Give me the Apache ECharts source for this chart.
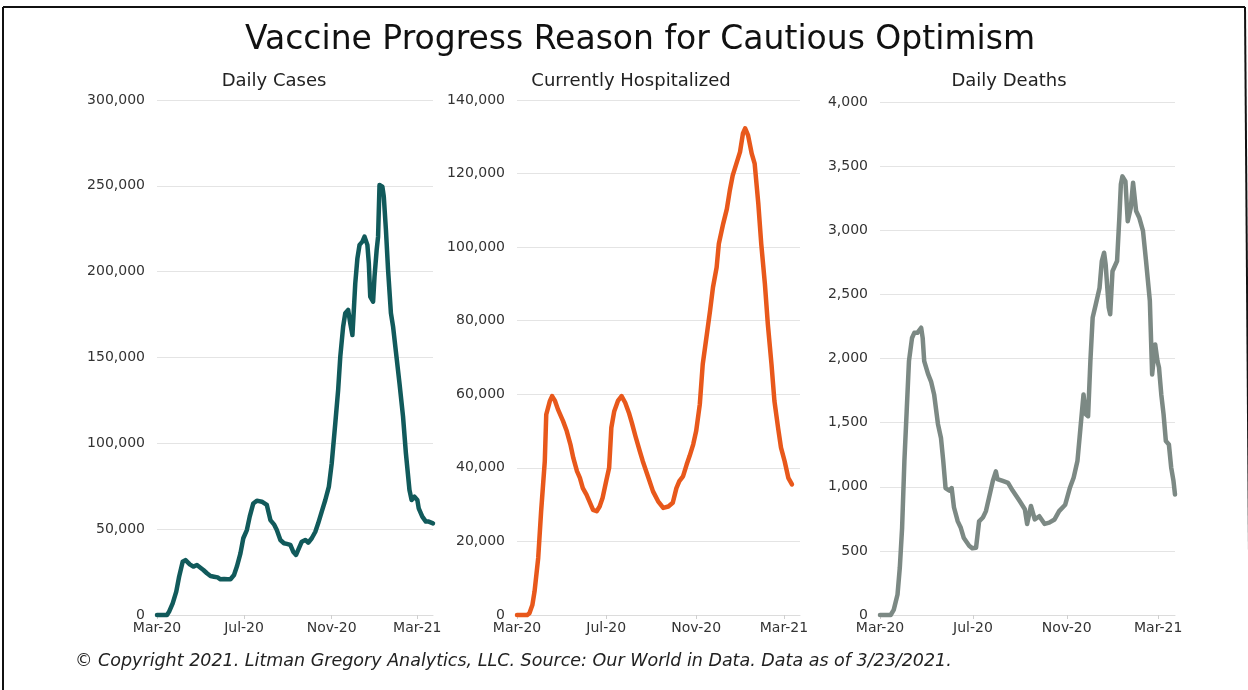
<!DOCTYPE html>
<html>
<head>
<meta charset="utf-8">
<title>Vaccine Progress Reason for Cautious Optimism</title>
<script src="https://cdn.jsdelivr.net/npm/echarts@6/dist/echarts.min.js"></script>
<style>
  html, body { margin: 0; padding: 0; background: #fff; }
  #chart { width: 1248px; height: 690px; }
</style>
</head>
<body>
<div id="chart"></div>
<script>
// ---- Data: US daily cases, current hospitalizations, daily deaths (7-day averages) ----
const casesDates = ['2020-03-01','2020-03-15','2020-03-18','2020-03-23','2020-03-28','2020-04-01','2020-04-06','2020-04-10','2020-04-16','2020-04-21','2020-04-26','2020-04-30','2020-05-05','2020-05-10','2020-05-15','2020-05-20','2020-05-25','2020-05-29','2020-06-03','2020-06-08','2020-06-12','2020-06-17','2020-06-21','2020-06-26','2020-06-30','2020-07-05','2020-07-09','2020-07-14','2020-07-19','2020-07-26','2020-08-02','2020-08-07','2020-08-12','2020-08-16','2020-08-21','2020-08-26','2020-08-30','2020-09-04','2020-09-08','2020-09-12','2020-09-15','2020-09-20','2020-09-25','2020-09-29','2020-10-04','2020-10-09','2020-10-13','2020-10-18','2020-10-23','2020-10-28','2020-11-01','2020-11-06','2020-11-10','2020-11-13','2020-11-17','2020-11-20','2020-11-24','2020-11-27','2020-11-30','2020-12-02','2020-12-04','2020-12-07','2020-12-10','2020-12-14','2020-12-17','2020-12-21','2020-12-23','2020-12-25','2020-12-29','2020-12-31','2021-01-03','2021-01-05','2021-01-07','2021-01-11','2021-01-13','2021-01-16','2021-01-19','2021-01-23','2021-01-26','2021-01-30','2021-02-04','2021-02-09','2021-02-13','2021-02-18','2021-02-21','2021-02-25','2021-03-01','2021-03-03','2021-03-08','2021-03-13','2021-03-17','2021-03-23'];
const casesValues = [0,0,2000,6800,13600,22300,31000,32000,29500,28200,29100,27800,26200,24300,22700,22300,21900,20800,21000,20800,20800,23300,28200,35900,44700,49500,57300,65000,66600,66000,64100,55300,52800,49500,43700,41800,41400,40800,36900,35000,37900,42700,43700,42100,44700,48500,53400,60200,67000,74800,88400,111700,131100,150500,168000,175800,177700,169900,163100,177700,193200,207800,215600,217500,220400,215600,204900,185500,182500,197100,212600,220400,250500,249500,243700,224300,201000,175800,168000,153400,135000,115500,94200,72800,67000,68900,67000,62100,57300,54400,54400,53400];

const hospDates = ['2020-03-01','2020-03-15','2020-03-18','2020-03-22','2020-03-25','2020-03-30','2020-04-03','2020-04-08','2020-04-10','2020-04-15','2020-04-18','2020-04-22','2020-04-26','2020-05-03','2020-05-08','2020-05-13','2020-05-17','2020-05-22','2020-05-26','2020-05-30','2020-06-04','2020-06-08','2020-06-13','2020-06-18','2020-06-22','2020-06-26','2020-07-01','2020-07-05','2020-07-08','2020-07-12','2020-07-17','2020-07-22','2020-07-27','2020-08-01','2020-08-05','2020-08-10','2020-08-16','2020-08-20','2020-08-27','2020-09-03','2020-09-10','2020-09-17','2020-09-24','2020-09-30','2020-10-05','2020-10-09','2020-10-14','2020-10-19','2020-10-23','2020-10-28','2020-11-01','2020-11-06','2020-11-10','2020-11-15','2020-11-20','2020-11-24','2020-11-29','2020-12-02','2020-12-08','2020-12-13','2020-12-17','2020-12-21','2020-12-26','2020-12-31','2021-01-04','2021-01-07','2021-01-11','2021-01-16','2021-01-20','2021-01-25','2021-01-29','2021-02-03','2021-02-07','2021-02-12','2021-02-16','2021-02-21','2021-02-25','2021-03-02','2021-03-07','2021-03-12'];
const hospValues = [0,0,500,2700,6400,15500,28200,41800,54500,58200,59500,58200,55900,52700,50000,46400,42700,39100,37300,34500,32700,30900,28600,28200,29500,31800,36400,40000,50900,55400,58200,59500,57700,55000,52300,48600,44500,41800,37700,33600,30900,29100,29500,30500,34500,36400,37700,40900,43200,46400,50000,57300,68200,75400,82700,89100,94500,100900,106400,110400,115400,119500,122700,125900,130900,132300,130400,125400,122700,111800,100900,90000,79100,68200,58200,50900,45500,41800,37300,35500];

const deathDates = ['2020-03-01','2020-03-15','2020-03-19','2020-03-24','2020-03-27','2020-03-30','2020-04-02','2020-04-05','2020-04-08','2020-04-12','2020-04-15','2020-04-19','2020-04-24','2020-04-26','2020-04-28','2020-05-03','2020-05-07','2020-05-11','2020-05-16','2020-05-20','2020-05-23','2020-05-26','2020-05-31','2020-06-03','2020-06-06','2020-06-11','2020-06-15','2020-06-19','2020-06-26','2020-06-30','2020-07-05','2020-07-09','2020-07-14','2020-07-18','2020-07-22','2020-07-27','2020-07-31','2020-08-02','2020-08-09','2020-08-16','2020-08-22','2020-08-31','2020-09-07','2020-09-10','2020-09-15','2020-09-20','2020-09-26','2020-10-03','2020-10-09','2020-10-16','2020-10-22','2020-10-30','2020-11-05','2020-11-10','2020-11-15','2020-11-19','2020-11-23','2020-11-26','2020-11-29','2020-12-02','2020-12-05','2020-12-09','2020-12-14','2020-12-17','2020-12-20','2020-12-22','2020-12-26','2020-12-28','2020-12-31','2021-01-06','2021-01-09','2021-01-11','2021-01-13','2021-01-17','2021-01-20','2021-01-24','2021-01-27','2021-01-31','2021-02-04','2021-02-09','2021-02-13','2021-02-18','2021-02-21','2021-02-25','2021-02-28','2021-03-02','2021-03-05','2021-03-08','2021-03-11','2021-03-15','2021-03-18','2021-03-21','2021-03-23'];
const deathValues = [0,0,40,160,370,680,1200,1590,1980,2160,2200,2200,2240,2160,1980,1880,1820,1720,1490,1380,1200,990,970,990,840,730,680,600,540,520,525,730,760,810,915,1045,1120,1060,1045,1030,970,890,825,710,850,745,770,710,720,745,810,860,990,1070,1200,1460,1720,1565,1550,1980,2320,2420,2550,2760,2825,2735,2400,2345,2680,2760,3100,3360,3420,3380,3070,3175,3370,3150,3100,2995,2760,2450,1875,2110,1980,1930,1720,1565,1357,1330,1150,1045,940];

// ---- Axis settings ----
const xRange = ['2020-03-01', '2021-03-23'];
const xTickDates = ['2020-03-01', '2020-07-01', '2020-11-01', '2021-03-01'];
const xTickLabels = ['Mar-20', 'Jul-20', 'Nov-20', 'Mar-21'];
const yMax = [300000, 140000, 4000];
const yStep = [50000, 20000, 500];

// ---- Text ----
const chartTitle = 'Vaccine Progress Reason for Cautious Optimism';
const panelTitles = ['Daily Cases', 'Currently Hospitalized', 'Daily Deaths'];
const footnote = '\u00A9 Copyright 2021. Litman Gregory Analytics, LLC. Source: Our World in Data. Data as of 3/23/2021.';

// ---- Styling ----
const FONT = '"DejaVu Sans", sans-serif';
const lineColors = ['#115a5b', '#e8581b', '#7c8984'];
const grids = [
  { left: 157, right: 815, top: 100, bottom: 75 },
  { left: 517, right: 448, top: 100, bottom: 75 },
  { left: 880, right: 73,  top: 102, bottom: 75 }
];
const titleX = [274, 631, 1009];

function toTime(s) {
  const p = s.split('-').map(Number);
  return Date.UTC(p[0], p[1] - 1, p[2]);
}
const tickTimes = xTickDates.map(toTime);

function pairs(dates, values) {
  return dates.map((d, i) => [toTime(d), values[i]]);
}
const seriesData = [
  pairs(casesDates, casesValues),
  pairs(hospDates, hospValues),
  pairs(deathDates, deathValues)
];

// Date axis drawn as a numeric (timestamp) axis so the month ticks can be placed exactly
const xAxes = grids.map((g, i) => ({
  type: 'value',
  gridIndex: i,
  min: toTime(xRange[0]),
  max: toTime(xRange[1]),
  axisLine: { show: true, onZero: false, lineStyle: { color: '#dcdcdc', width: 1 } },
  axisTick: { show: true, customValues: tickTimes, length: 4, lineStyle: { color: '#cfcfcf' } },
  splitLine: { show: false },
  axisLabel: {
    customValues: tickTimes,
    formatter: v => {
      const k = tickTimes.indexOf(v);
      return k >= 0 ? xTickLabels[k] : '';
    },
    color: '#333',
    fontFamily: FONT,
    fontSize: 14,
    margin: 6,
    hideOverlap: false,
    showMinLabel: true,
    showMaxLabel: true
  }
}));

const yAxes = grids.map((g, i) => ({
  type: 'value',
  gridIndex: i,
  min: 0,
  max: yMax[i],
  interval: yStep[i],
  axisLine: { show: false },
  axisTick: { show: false },
  splitLine: { show: true, lineStyle: { color: '#e4e4e4', width: 1 } },
  axisLabel: {
    formatter: v => v.toLocaleString('en-US'),
    color: '#333',
    fontFamily: FONT,
    fontSize: 14,
    margin: 12
  }
}));

const series = seriesData.map((d, i) => ({
  type: 'line',
  name: panelTitles[i],
  xAxisIndex: i,
  yAxisIndex: i,
  data: d,
  showSymbol: false,
  symbol: 'none',
  clip: false,
  lineStyle: { color: lineColors[i], width: 4.5, join: 'round', cap: 'round' },
  emphasis: { disabled: true }
}));

const graphics = [
  { type: 'line', shape: { x1: 3, y1: 7, x2: 1245, y2: 7 }, style: { stroke: '#111', lineWidth: 2 }, silent: true },
  { type: 'line', shape: { x1: 3, y1: 7, x2: 3, y2: 690 }, style: { stroke: '#111', lineWidth: 2 }, silent: true },
  { type: 'line', shape: { x1: 1245, y1: 7, x2: 1250, y2: 690 }, style: { stroke: '#111', lineWidth: 2 }, silent: true },
  {
    type: 'text', x: 640, y: 40, silent: true,
    style: { text: chartTitle, fill: '#111', fontFamily: FONT, fontSize: 33, textAlign: 'center', textVerticalAlign: 'middle' }
  },
  {
    type: 'text', x: 75, y: 661, silent: true,
    style: { text: footnote, fill: '#222', fontFamily: FONT, fontStyle: 'italic', fontSize: 17.5, textAlign: 'left', textVerticalAlign: 'middle' }
  }
].concat(panelTitles.map((t, i) => ({
  type: 'text', x: titleX[i], y: 81, silent: true,
  style: { text: t, fill: '#222', fontFamily: FONT, fontSize: 18, textAlign: 'center', textVerticalAlign: 'middle' }
})));

const chart = echarts.init(document.getElementById('chart'), null, { renderer: 'canvas' });
chart.setOption({
  backgroundColor: '#ffffff',
  animation: false,
  grid: grids,
  xAxis: xAxes,
  yAxis: yAxes,
  series: series,
  graphic: graphics
});
</script>
</body>
</html>
